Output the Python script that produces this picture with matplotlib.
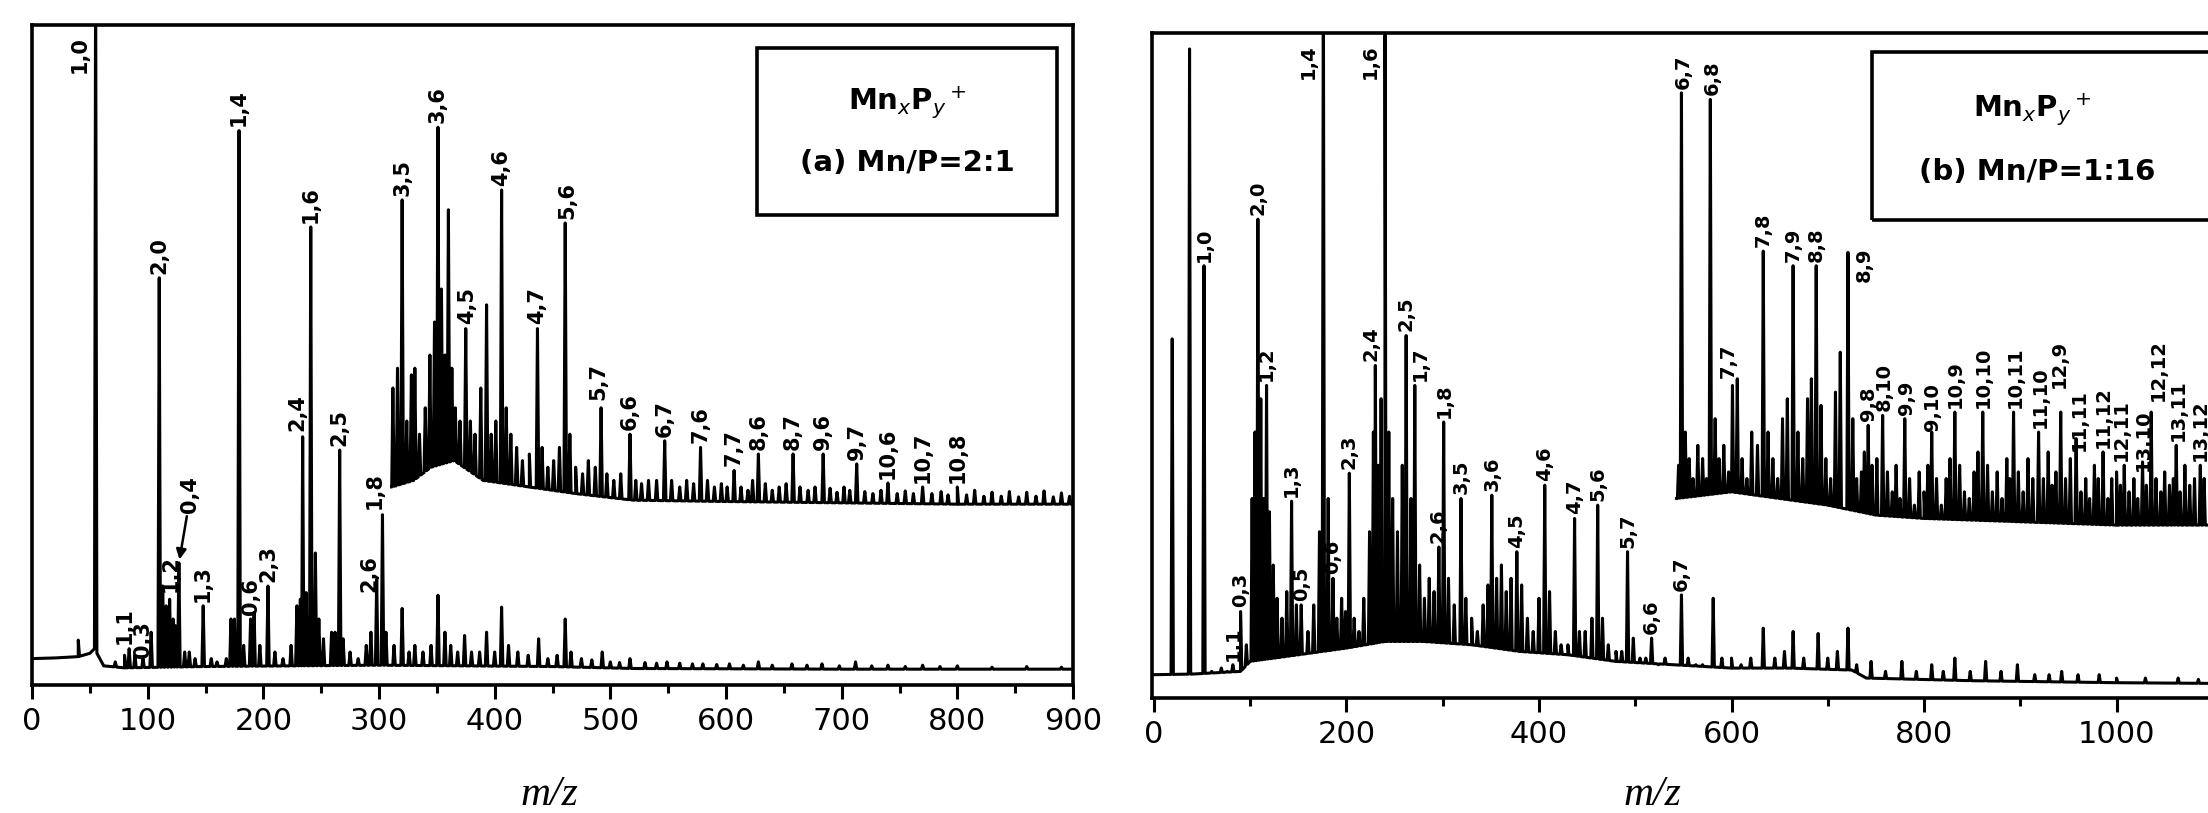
import numpy as np
import matplotlib.pyplot as plt
from matplotlib.patches import Rectangle

# ---- panel (a) Mn/P = 2:1, intensities in % of the frame height ----
a_base_mz = [0, 20, 40, 50, 54, 62, 80, 150, 300, 450, 520, 700, 900]
a_base_int = [4.0, 4.1, 4.3, 4.8, 5.5, 2.9, 2.6, 2.8, 3.0, 2.8, 2.5, 2.4, 2.4]
a_peak_mz = [40, 55, 72, 80, 84, 89, 96, 103, 110, 113, 116, 119, 122, 124, 127, 132, 136, 141,
             148, 155, 160, 168, 172, 175, 179, 183, 189, 192, 197, 204, 210, 217, 224, 229,
             232, 234, 237, 241, 245, 248, 252, 259, 262, 266, 269, 275, 282, 289, 293, 298,
             303, 306, 313, 320, 326, 331, 338, 345, 351, 357, 362, 368, 374, 380, 387, 393,
             400, 406, 412, 420, 429, 438, 446, 454, 461, 466, 475, 484, 493, 500, 508, 517,
             530, 540, 549, 560, 571, 580, 592, 603, 615, 628, 640, 657, 670, 683, 698, 712,
             726, 740, 755, 770, 785, 800, 830, 860, 890]
a_peak_int = [6.8, 110, 3.5, 4.5, 5.5, 4.5, 4.0, 8, 61.7, 15, 12, 13, 10, 9, 18.5, 5, 5, 4,
              12, 4, 3.5, 4, 10, 10, 84, 6, 10, 11, 6, 15, 5, 4, 6, 12,
              13, 37.6, 14, 69.4, 20, 10, 7, 8, 8, 35.6, 7, 5, 4, 6, 8, 16,
              25.8, 8, 6, 11.6, 5, 6, 5, 6, 13.6, 8, 6, 5, 7.5, 5, 5, 8,
              5, 11.8, 6, 5, 4.5, 7, 4, 4.5, 10, 5, 4, 3.8, 5, 3.5, 3.4, 4,
              3.4, 3.3, 3.5, 3.3, 3.2, 3.2, 3.1, 3.2, 3.0, 3.5, 3.0, 3.2, 3.0, 3.2, 2.9, 3.5,
              2.9, 3.0, 2.8, 3.0, 2.8, 2.9, 2.7, 2.8, 2.7]

a_up_base_mz = [311, 330, 345, 365, 390, 430, 470, 520, 600, 700, 800, 900]
a_up_base_int = [30, 31, 33, 34, 31, 30, 29, 28, 27.8, 27.6, 27.4, 27.4]
a_up_mz = [312, 316, 320, 324, 328, 331, 335, 340, 344, 348, 351, 354, 357, 360, 363, 366,
           370, 375, 379, 383, 388, 393, 397, 401, 406, 410, 414, 419, 424, 430, 437, 441,
           446, 451, 456, 461, 465, 470, 476, 481, 487, 492, 497, 503, 509, 517, 522, 527,
           533, 540, 547, 553, 560, 566, 572, 578, 584, 590, 596, 601, 607, 613, 619, 623,
           628, 634, 640, 646, 652, 658, 664, 671, 677, 684, 690, 696, 702, 707, 713, 720,
           727, 734, 740, 748, 755, 762, 770, 778, 786, 792, 800, 808, 815, 823, 830, 838,
           845, 853, 860, 868, 875, 883, 890, 897]
a_up_int = [45, 48, 73.5, 40, 47, 48, 38, 42, 50, 55, 84.5, 60, 50, 72, 48, 42,
            40, 54, 40, 38, 45, 57.6, 38, 40, 75, 42, 38, 36, 34, 35, 54, 36,
            33, 34, 36, 70, 38, 33, 32, 34, 33, 42, 32, 31, 32, 38, 31, 30.5,
            31, 31, 37, 31, 30, 31, 30.5, 36, 31, 30, 30.5, 30, 32.5, 30, 29.5, 31,
            35, 30.5, 29.5, 30, 30.5, 35, 30, 29.5, 30, 35, 29.8, 29.2, 30, 29.5, 33.5, 29.3,
            29, 29.5, 30.6, 29, 29.4, 29, 30, 29, 29.3, 28.8, 30, 28.8, 29.5, 28.6, 29.2, 28.6,
            29.3, 28.5, 29.2, 28.6, 29.4, 28.5, 29.1, 28.6]

a_lab_text = ['1,0', '1,1', '0,3', '2,0', '1,2', '1,3', '1,4', '0,6', '2,3', '2,4', '1,6', '2,5',
              '2,6', '1,8', '3,5', '3,6', '4,5', '4,6', '4,7', '5,6', '5,7', '6,6', '6,7', '7,6',
              '7,7', '8,6', '8,7', '9,6', '9,7', '10,6', '10,7', '10,8']
a_lab_mz = [55, 80, 96, 110, 120, 148, 179, 189, 204, 229, 241, 266,
            292, 296, 320, 351, 376, 406, 437, 463, 490, 517, 547, 578,
            607, 628, 658, 684, 713, 740, 770, 800]
a_lab_int = [110, 5.6, 3.5, 61.7, 13.5, 12, 84, 10, 15, 37.8, 69.4, 35.6,
             13.5, 26, 73.5, 84.5, 54, 75, 54, 70, 42.5, 38, 37, 36,
             32.5, 35, 35, 35, 33.5, 30.6, 30, 30]
a_arrow = ('0,4', 127.5, 19.0, 137, 26.0)

# ---- panel (b) Mn/P = 1:16 ----
b_base_mz = [-2, 40, 90, 100, 150, 200, 240, 280, 330, 380, 430, 480, 540, 600, 660, 725, 740, 850, 1000, 1095]
b_base_int = [3.5, 3.6, 4.0, 5.5, 6.5, 7.5, 8.5, 8.5, 8, 7, 6.5, 5.5, 5, 4.5, 4.5, 4.2, 3.0, 2.6, 2.3, 2.2]
b_peak_mz = [19, 37, 52, 60, 70, 76, 82, 90, 96, 102, 105, 108, 111, 114, 117, 120, 124, 128,
             133, 138, 143, 148, 153, 160, 166, 172, 176, 181, 186, 190, 195, 199, 203, 208,
             213, 218, 224, 228, 230, 233, 236, 240, 244, 248, 253, 258, 262, 267, 271, 276,
             281, 286, 291, 296, 301, 306, 312, 319, 324, 330, 336, 342, 347, 351, 356, 361,
             366, 371, 377, 382, 388, 394, 400, 406, 411, 417, 423, 430, 437, 442, 448, 455,
             461, 466, 472, 480, 486, 492, 498, 505, 511, 517, 524, 531, 538, 548, 555, 563,
             570, 581, 590, 600, 610, 620, 633, 645, 655, 664, 675, 690, 700, 710, 721, 730,
             745, 760, 777, 792, 808, 820, 832, 848, 864, 880, 897, 915, 930, 943, 960, 982,
             1000, 1030, 1064, 1085]
b_peak_int = [54, 97.6, 65, 4, 4.5, 4, 5, 13, 8, 30, 40, 72, 45, 30, 47, 28, 20, 15,
              12, 16, 29.6, 14, 14, 10, 14, 25, 110, 30, 18, 12, 15, 13, 33.8, 12,
              10, 15, 25, 40, 50, 35, 45, 110, 40, 30, 25, 35, 54.5, 30, 47, 20,
              15, 18, 16, 22.7, 41.5, 18, 14, 30, 15, 12, 10, 14, 17, 30.5, 18, 20,
              16, 18, 22, 17, 12, 10, 15, 32, 16, 10, 8, 8, 27, 10, 10, 12,
              29, 12, 8, 7, 7, 22, 9, 6, 6, 9, 5, 6, 5, 15.5, 6, 5,
              5, 15, 6, 6, 5, 6, 10.5, 6, 7, 10, 6, 9.7, 6, 7, 10.5, 5,
              5.5, 4, 5.5, 4, 5, 4, 6, 4, 5.5, 4, 5, 3.5, 3.5, 4, 3.5, 3.5,
              3, 3, 3, 2.8]

b_up_base_mz = [543, 600, 650, 700, 750, 800, 900, 1000, 1095]
b_up_base_int = [30, 31, 30, 29, 27.5, 27, 26.5, 26, 26]
b_up_mz = [545, 548, 552, 556, 560, 565, 570, 574, 578, 583, 587, 592, 597, 601, 606, 611,
           616, 621, 627, 633, 638, 643, 648, 653, 658, 664, 669, 674, 679, 683, 688, 693,
           698, 703, 708, 713, 721, 726, 730, 735, 738, 742, 746, 751, 757, 762, 767, 771,
           775, 780, 785, 790, 795, 800, 804, 808, 813, 818, 823, 827, 832, 837, 842, 847,
           852, 856, 861, 866, 871, 876, 881, 886, 889, 893, 898, 903, 908, 913, 919, 924,
           929, 933, 937, 942, 947, 952, 958, 963, 968, 972, 977, 981, 986, 991, 995, 1000,
           1004, 1008, 1013, 1018, 1022, 1027, 1031, 1036, 1041, 1046, 1050, 1055, 1059, 1062,
           1066, 1071, 1076, 1081, 1087, 1091]
b_up_int = [35, 91, 40, 36, 33, 38, 36, 33, 90, 42, 36, 38, 34, 47, 48, 36,
            33, 40, 38, 67.2, 40, 36, 33, 42, 45, 65, 40, 36, 45, 48, 65, 44,
            36, 33, 46, 52, 67, 42, 33, 34, 37, 41, 35, 36, 42.5, 34, 31, 35,
            30, 42, 33, 29, 34, 31, 35, 40, 33, 29, 33, 36, 43, 35, 31, 30,
            34, 37, 43, 35, 31, 34, 30, 36, 33, 43, 34, 31, 36, 33, 40, 33,
            37, 32, 34, 43, 33, 36, 39, 31, 33, 30, 35, 33, 37, 30, 33, 34,
            32, 35, 31, 33, 30, 35.5, 32, 43, 33, 31, 34, 32, 33, 38,
            31, 35, 32, 33, 35, 33]

b_lab_text = ['1,0', '1,1', '0,3', '2,0', '1,2', '1,3', '0,5', '1,4', '0,6', '2,3', '2,4', '1,6',
              '2,5', '1,7', '2,6', '1,8', '3,5', '3,6', '4,5', '4,6', '4,7', '5,6', '5,7', '6,6',
              '6,7', '6,7', '6,8', '7,7', '7,8', '7,9', '8,8', '8,9', '9,8', '8,10', '9,9', '9,10',
              '10,9', '10,10', '10,11', '11,10', '12,9', '11,11', '11,12', '12,11', '13,10',
              '12,12', '13,11', '13,12']
b_lab_mz = [52, 82, 90, 108, 117, 143, 153, 176, 186, 203, 226, 240,
            262, 277, 295, 302, 319, 351, 377, 406, 437, 461, 492, 517,
            548, 550, 580, 597, 633, 664, 688, 738, 742, 759, 782, 809,
            833, 862, 895, 921, 941, 961, 986, 1005, 1028,
            1043, 1064, 1087]
b_lab_int = [65, 5, 13, 72, 47, 29.6, 14, 110, 18, 33.8, 50, 110,
             54.5, 47, 22.7, 41.5, 30, 30.5, 22, 32, 27, 29, 22, 9,
             15.5, 91, 90, 47.5, 67.2, 65, 65, 62, 41, 42.5, 42, 39.5,
             43, 43, 43, 40, 46, 36.5, 37, 35, 33.5,
             44, 38, 35]


def trace(base_mz, base_int, pk_mz, pk_int, w):
    base_mz = np.asarray(base_mz, float)
    base_int = np.asarray(base_int, float)
    pk_mz = np.asarray(pk_mz, float)
    pk_int = np.asarray(pk_int, float)
    xs = np.concatenate([base_mz, pk_mz - w, pk_mz, pk_mz + w])
    ys = np.concatenate([base_int,
                         np.interp(pk_mz - w, base_mz, base_int),
                         pk_int,
                         np.interp(pk_mz + w, base_mz, base_int)])
    order = np.argsort(xs, kind='stable')
    return xs[order], ys[order]


def put_labels(ax, texts, mzs, ys, size):
    for t, m, y in zip(texts, mzs, ys):
        if y >= 100:
            ax.annotate(t, xy=(m, 100), xytext=(-4, -8), textcoords='offset points',
                        rotation=90, ha='right', va='top', fontsize=size, fontweight='bold')
        else:
            ax.annotate(t, xy=(m, y), xytext=(0, 3), textcoords='offset points',
                        rotation=90, ha='center', va='bottom', fontsize=size, fontweight='bold')


def style(ax):
    for s in ax.spines.values():
        s.set_linewidth(2.6)
    ax.set_ylim(0, 100)
    ax.set_yticks([])
    ax.tick_params(axis='x', which='major', direction='out', length=10, width=2.2,
                   labelsize=22, pad=6)
    ax.tick_params(axis='x', which='minor', direction='out', length=6, width=2.2)


fig = plt.figure(figsize=(22.08, 8.13), dpi=100)
ax1 = fig.add_axes([32 / 2208, 128 / 813, 1041 / 2208, 660 / 813])
ax2 = fig.add_axes([1152 / 2208, 115 / 813, 1056 / 2208, 665 / 813])

# panel (a)
x, y = trace(a_base_mz, a_base_int, a_peak_mz, a_peak_int, 1.1)
ax1.plot(x, y, color='k', lw=2.2)
x, y = trace(a_up_base_mz, a_up_base_int, a_up_mz, a_up_int, 1.1)
ax1.plot(x, y, color='k', lw=2.2)
put_labels(ax1, a_lab_text, a_lab_mz, a_lab_int, 15)
ax1.annotate(a_arrow[0], xy=(a_arrow[1], a_arrow[2]), xytext=(a_arrow[3], a_arrow[4]),
             rotation=90, ha='center', va='bottom', fontsize=15, fontweight='bold',
             arrowprops=dict(arrowstyle='-|>', color='k', lw=1.8, shrinkA=0, shrinkB=0))
ax1.set_xlim(0, 900)
ax1.set_xticks(range(0, 901, 100))
ax1.set_xticks(range(50, 900, 100), minor=True)
style(ax1)
ax1.add_patch(Rectangle((0.696, 0.712), 0.289, 0.253, transform=ax1.transAxes,
                        fill=False, lw=2.6, color='k'))
ax1.text(0.8405, 0.882, r'Mn$_x$P$_y$$^+$', transform=ax1.transAxes, ha='center',
         va='center', fontsize=21, fontweight='bold')
ax1.text(0.8405, 0.791, '(a) Mn/P=2:1', transform=ax1.transAxes, ha='center',
         va='center', fontsize=21, fontweight='bold')

# panel (b)
x, y = trace(b_base_mz, b_base_int, b_peak_mz, b_peak_int, 1.2)
ax2.plot(x, y, color='k', lw=2.2)
x, y = trace(b_up_base_mz, b_up_base_int, b_up_mz, b_up_int, 1.2)
ax2.plot(x, y, color='k', lw=2.2)
put_labels(ax2, b_lab_text, b_lab_mz, b_lab_int, 14)
ax2.set_xlim(-2, 1095)
ax2.set_xticks(range(0, 1001, 200))
ax2.set_xticks(range(100, 1001, 200), minor=True)
style(ax2)
ax2.spines['right'].set_visible(False)
ax2.add_patch(Rectangle((0.682, 0.719), 0.40, 0.252, transform=ax2.transAxes,
                        fill=False, lw=2.6, color='k', clip_on=False))
ax2.text(0.834, 0.884, r'Mn$_x$P$_y$$^+$', transform=ax2.transAxes, ha='center',
         va='center', fontsize=21, fontweight='bold')
ax2.text(0.838, 0.791, '(b) Mn/P=1:16', transform=ax2.transAxes, ha='center',
         va='center', fontsize=21, fontweight='bold')

fig.text(549 / 2208, 1 - 795 / 813, 'm/z', ha='center', va='center', fontsize=30,
         family='Liberation Serif', style='italic')
fig.text(1652 / 2208, 1 - 795 / 813, 'm/z', ha='center', va='center', fontsize=30,
         family='Liberation Serif', style='italic')

fig.savefig('out.png', dpi=100)
